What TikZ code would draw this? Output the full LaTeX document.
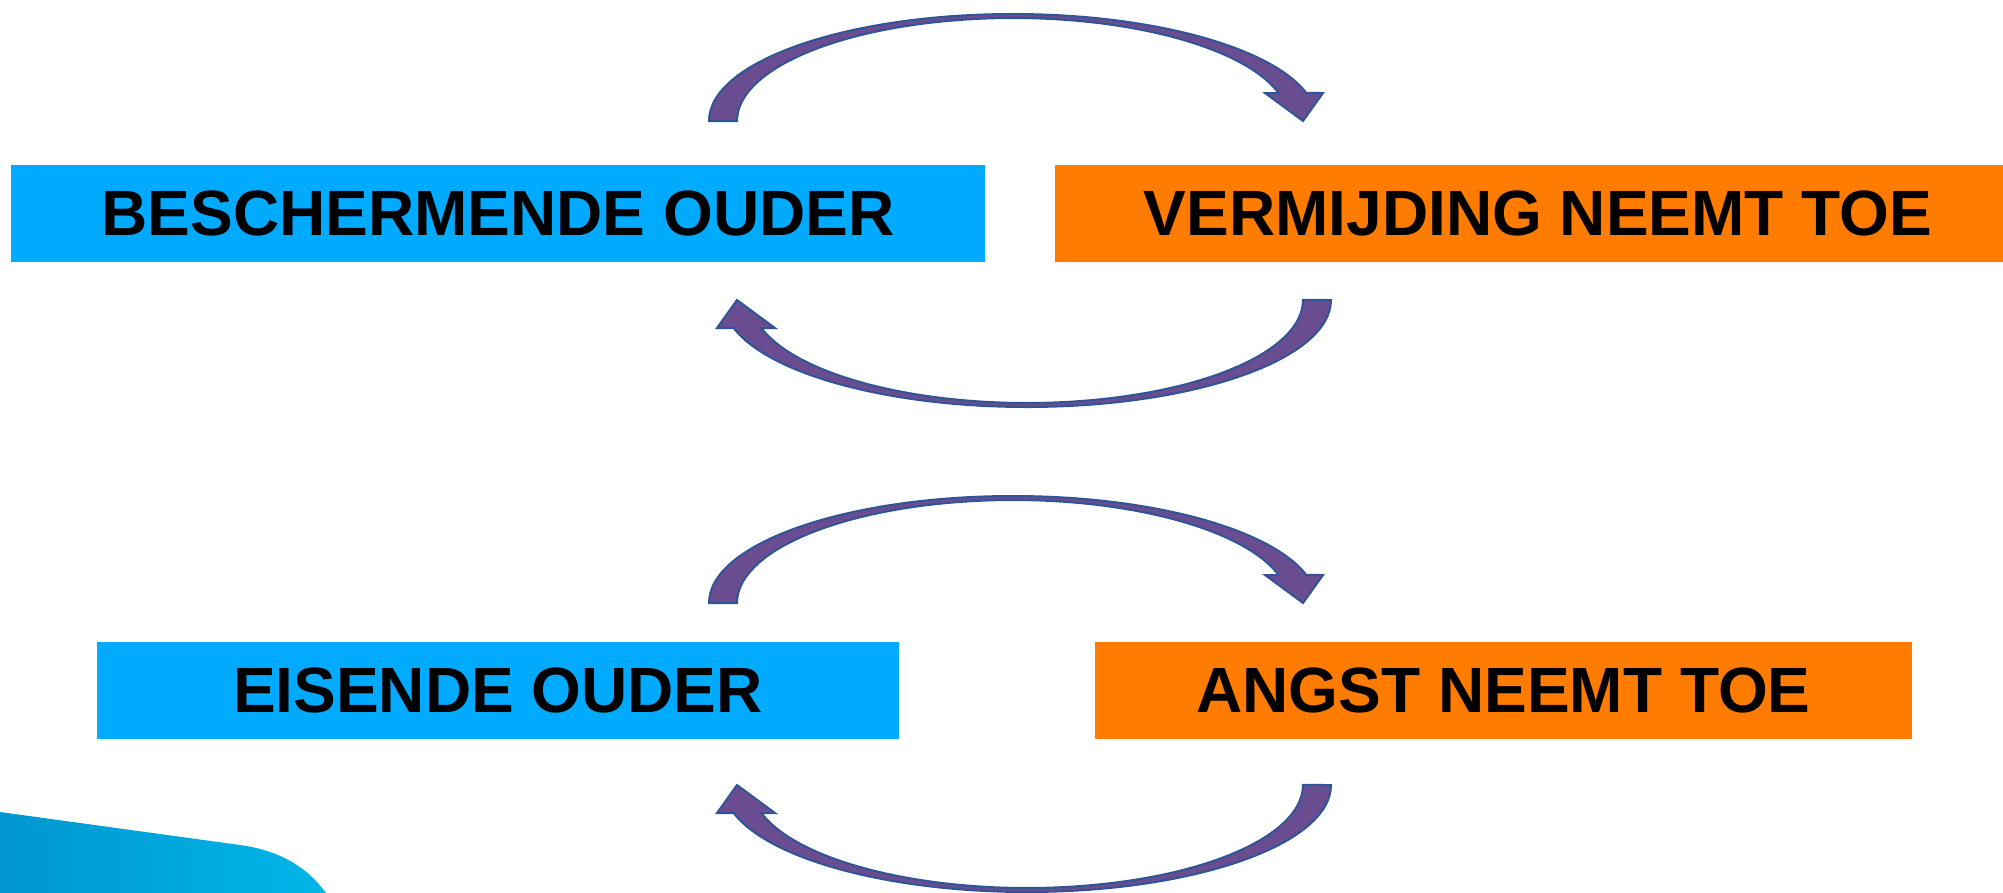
\documentclass[tikz,border=0pt]{standalone}
\usepackage{fontspec}
\setmainfont{Liberation Sans}

\definecolor{ouderblauw}{RGB}{0,170,255}
\definecolor{angstoranje}{RGB}{255,124,0}
\definecolor{pijlvul}{RGB}{106,76,145}
\definecolor{pijlrand}{RGB}{47,85,151}
\definecolor{hoekdonker}{RGB}{0,150,208}
\definecolor{hoeklicht}{RGB}{0,182,232}

% curved arrow, tail left, head right
\newcommand{\luspijl}{%
  (709,121) arc[start angle=180, end angle=344.8, x radius=304, y radius=107]
  -- (1323,93) -- (1303,121) -- (1265,93) -- (1278.6,93)
  arc[start angle=344.2, end angle=180, x radius=276, y radius=103] -- cycle}

\begin{document}
\begin{tikzpicture}[x=1pt,y=-1pt,
    blok/.style={minimum height=97pt, inner sep=0pt,
      font=\fontsize{64}{70}\selectfont\bfseries},
    pijl/.style={fill=pijlvul, draw=pijlrand, line width=2pt, line join=miter}]
  \clip (0,0) rectangle (2003,892);

  % Corner shape
  \shade[left color=hoekdonker, right color=hoeklicht]
    (0,812) -- (240,845) .. controls (285,851) and (312,872) .. (328,896)
    -- (0,896) -- cycle;

  % Boxes
  \node[blok, fill=ouderblauw, minimum width=974pt] (beschermend) at (498,213.5) {BESCHERMENDE OUDER};
  \node[blok, fill=angstoranje, minimum width=966pt] (vermijding) at (1538,213.5) {VERMIJDING NEEMT TOE};
  \node[blok, fill=ouderblauw, minimum width=802pt] (eisend) at (498,690) {EISENDE OUDER};
  \node[blok, fill=angstoranje, minimum width=817pt] (angst) at (1503.5,690) {ANGST NEEMT TOE};

  % Arrows, top pair
  \draw[pijl] \luspijl;
  \begin{scope}[rotate around={180:(1020,210.5)}]
    \draw[pijl] \luspijl;
  \end{scope}

  % Arrows, bottom pair
  \begin{scope}[shift={(0,482)}]
    \draw[pijl] \luspijl;
  \end{scope}
  \begin{scope}[rotate around={180:(1020,453)}]
    \draw[pijl] \luspijl;
  \end{scope}
\end{tikzpicture}
\end{document}
